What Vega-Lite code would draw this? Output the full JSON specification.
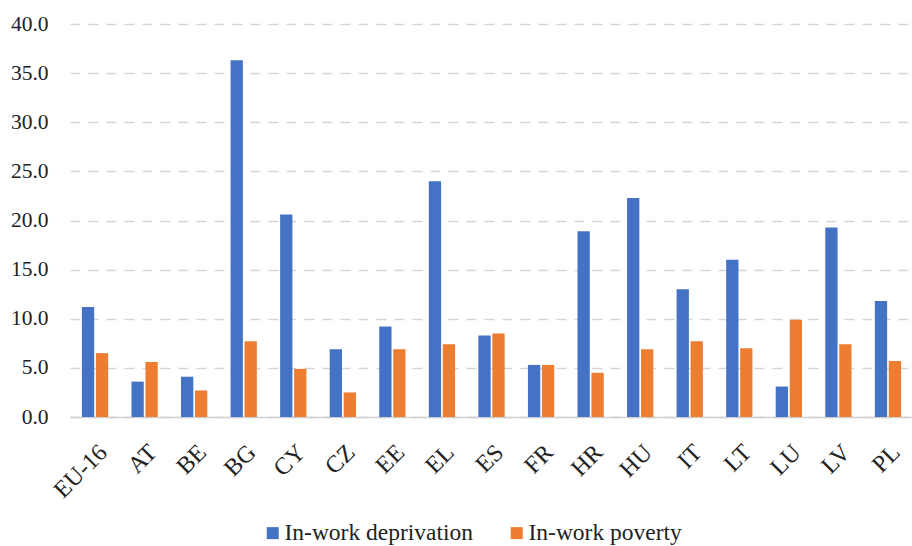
{
  "$schema": "https://vega.github.io/schema/vega-lite/v6.json",
  "autosize": "none",
  "width": 843,
  "height": 393,
  "padding": {"left": 70, "top": 24, "right": 0, "bottom": 129},
  "background": "white",
  "config": {
    "font": "Liberation Serif",
    "axis": {"labelFont": "Liberation Serif"},
    "legend": {"labelFont": "Liberation Serif"},
    "view": {"stroke": null}
  },
  "data": {
    "values": [
      {"country": "EU-16", "series": "In-work deprivation", "value": 11.2},
      {"country": "EU-16", "series": "In-work poverty", "value": 6.5},
      {"country": "AT", "series": "In-work deprivation", "value": 3.6},
      {"country": "AT", "series": "In-work poverty", "value": 5.6},
      {"country": "BE", "series": "In-work deprivation", "value": 4.1},
      {"country": "BE", "series": "In-work poverty", "value": 2.7},
      {"country": "BG", "series": "In-work deprivation", "value": 36.3},
      {"country": "BG", "series": "In-work poverty", "value": 7.7},
      {"country": "CY", "series": "In-work deprivation", "value": 20.6},
      {"country": "CY", "series": "In-work poverty", "value": 4.9},
      {"country": "CZ", "series": "In-work deprivation", "value": 6.9},
      {"country": "CZ", "series": "In-work poverty", "value": 2.5},
      {"country": "EE", "series": "In-work deprivation", "value": 9.2},
      {"country": "EE", "series": "In-work poverty", "value": 6.9},
      {"country": "EL", "series": "In-work deprivation", "value": 24.0},
      {"country": "EL", "series": "In-work poverty", "value": 7.4},
      {"country": "ES", "series": "In-work deprivation", "value": 8.3},
      {"country": "ES", "series": "In-work poverty", "value": 8.5},
      {"country": "FR", "series": "In-work deprivation", "value": 5.3},
      {"country": "FR", "series": "In-work poverty", "value": 5.3},
      {"country": "HR", "series": "In-work deprivation", "value": 18.9},
      {"country": "HR", "series": "In-work poverty", "value": 4.5},
      {"country": "HU", "series": "In-work deprivation", "value": 22.3},
      {"country": "HU", "series": "In-work poverty", "value": 6.9},
      {"country": "IT", "series": "In-work deprivation", "value": 13.0},
      {"country": "IT", "series": "In-work poverty", "value": 7.7},
      {"country": "LT", "series": "In-work deprivation", "value": 16.0},
      {"country": "LT", "series": "In-work poverty", "value": 7.0},
      {"country": "LU", "series": "In-work deprivation", "value": 3.1},
      {"country": "LU", "series": "In-work poverty", "value": 9.9},
      {"country": "LV", "series": "In-work deprivation", "value": 19.3},
      {"country": "LV", "series": "In-work poverty", "value": 7.4},
      {"country": "PL", "series": "In-work deprivation", "value": 11.8},
      {"country": "PL", "series": "In-work poverty", "value": 5.7}
    ]
  },
  "mark": {"type": "bar"},
  "encoding": {
    "x": {
      "field": "country",
      "type": "nominal",
      "sort": null,
      "scale": {"paddingInner": 0.47, "paddingOuter": 0.24},
      "axis": {
        "title": null,
        "labelAngle": -45,
        "labelFont": "Liberation Serif",
        "labelFontSize": 24,
        "labelColor": "#222222",
        "labelPadding": 23,
        "labelDx": -6,
        "ticks": false,
        "domain": true,
        "domainColor": "#D0D0D0",
        "domainWidth": 1.5,
        "grid": false
      }
    },
    "xOffset": {
      "field": "series",
      "type": "nominal",
      "scale": {"paddingInner": 0.12}
    },
    "y": {
      "field": "value",
      "type": "quantitative",
      "scale": {"domain": [0, 40], "nice": false},
      "axis": {
        "title": null,
        "values": [0, 5, 10, 15, 20, 25, 30, 35, 40],
        "format": ".1f",
        "labelFont": "Liberation Serif",
        "labelFontSize": 21.5,
        "labelColor": "#222222",
        "labelPadding": 22,
        "ticks": false,
        "domain": false,
        "grid": true,
        "gridColor": "#D5D5D5",
        "gridWidth": 1.5,
        "gridDash": [10, 8]
      }
    },
    "color": {
      "field": "series",
      "type": "nominal",
      "scale": {
        "domain": ["In-work deprivation", "In-work poverty"],
        "range": ["#4472C4", "#ED7D31"]
      },
      "legend": {
        "title": null,
        "orient": "none",
        "direction": "horizontal",
        "legendX": 191,
        "legendY": 497,
        "symbolType": "square",
        "symbolSize": 144,
        "symbolStrokeWidth": 0,
        "labelFont": "Liberation Serif",
        "labelFontSize": 23.5,
        "labelLimit": 400,
        "labelColor": "#222222",
        "columnPadding": 31,
        "symbolOffset": 0,
        "labelOffset": 0
      }
    }
  }
}
